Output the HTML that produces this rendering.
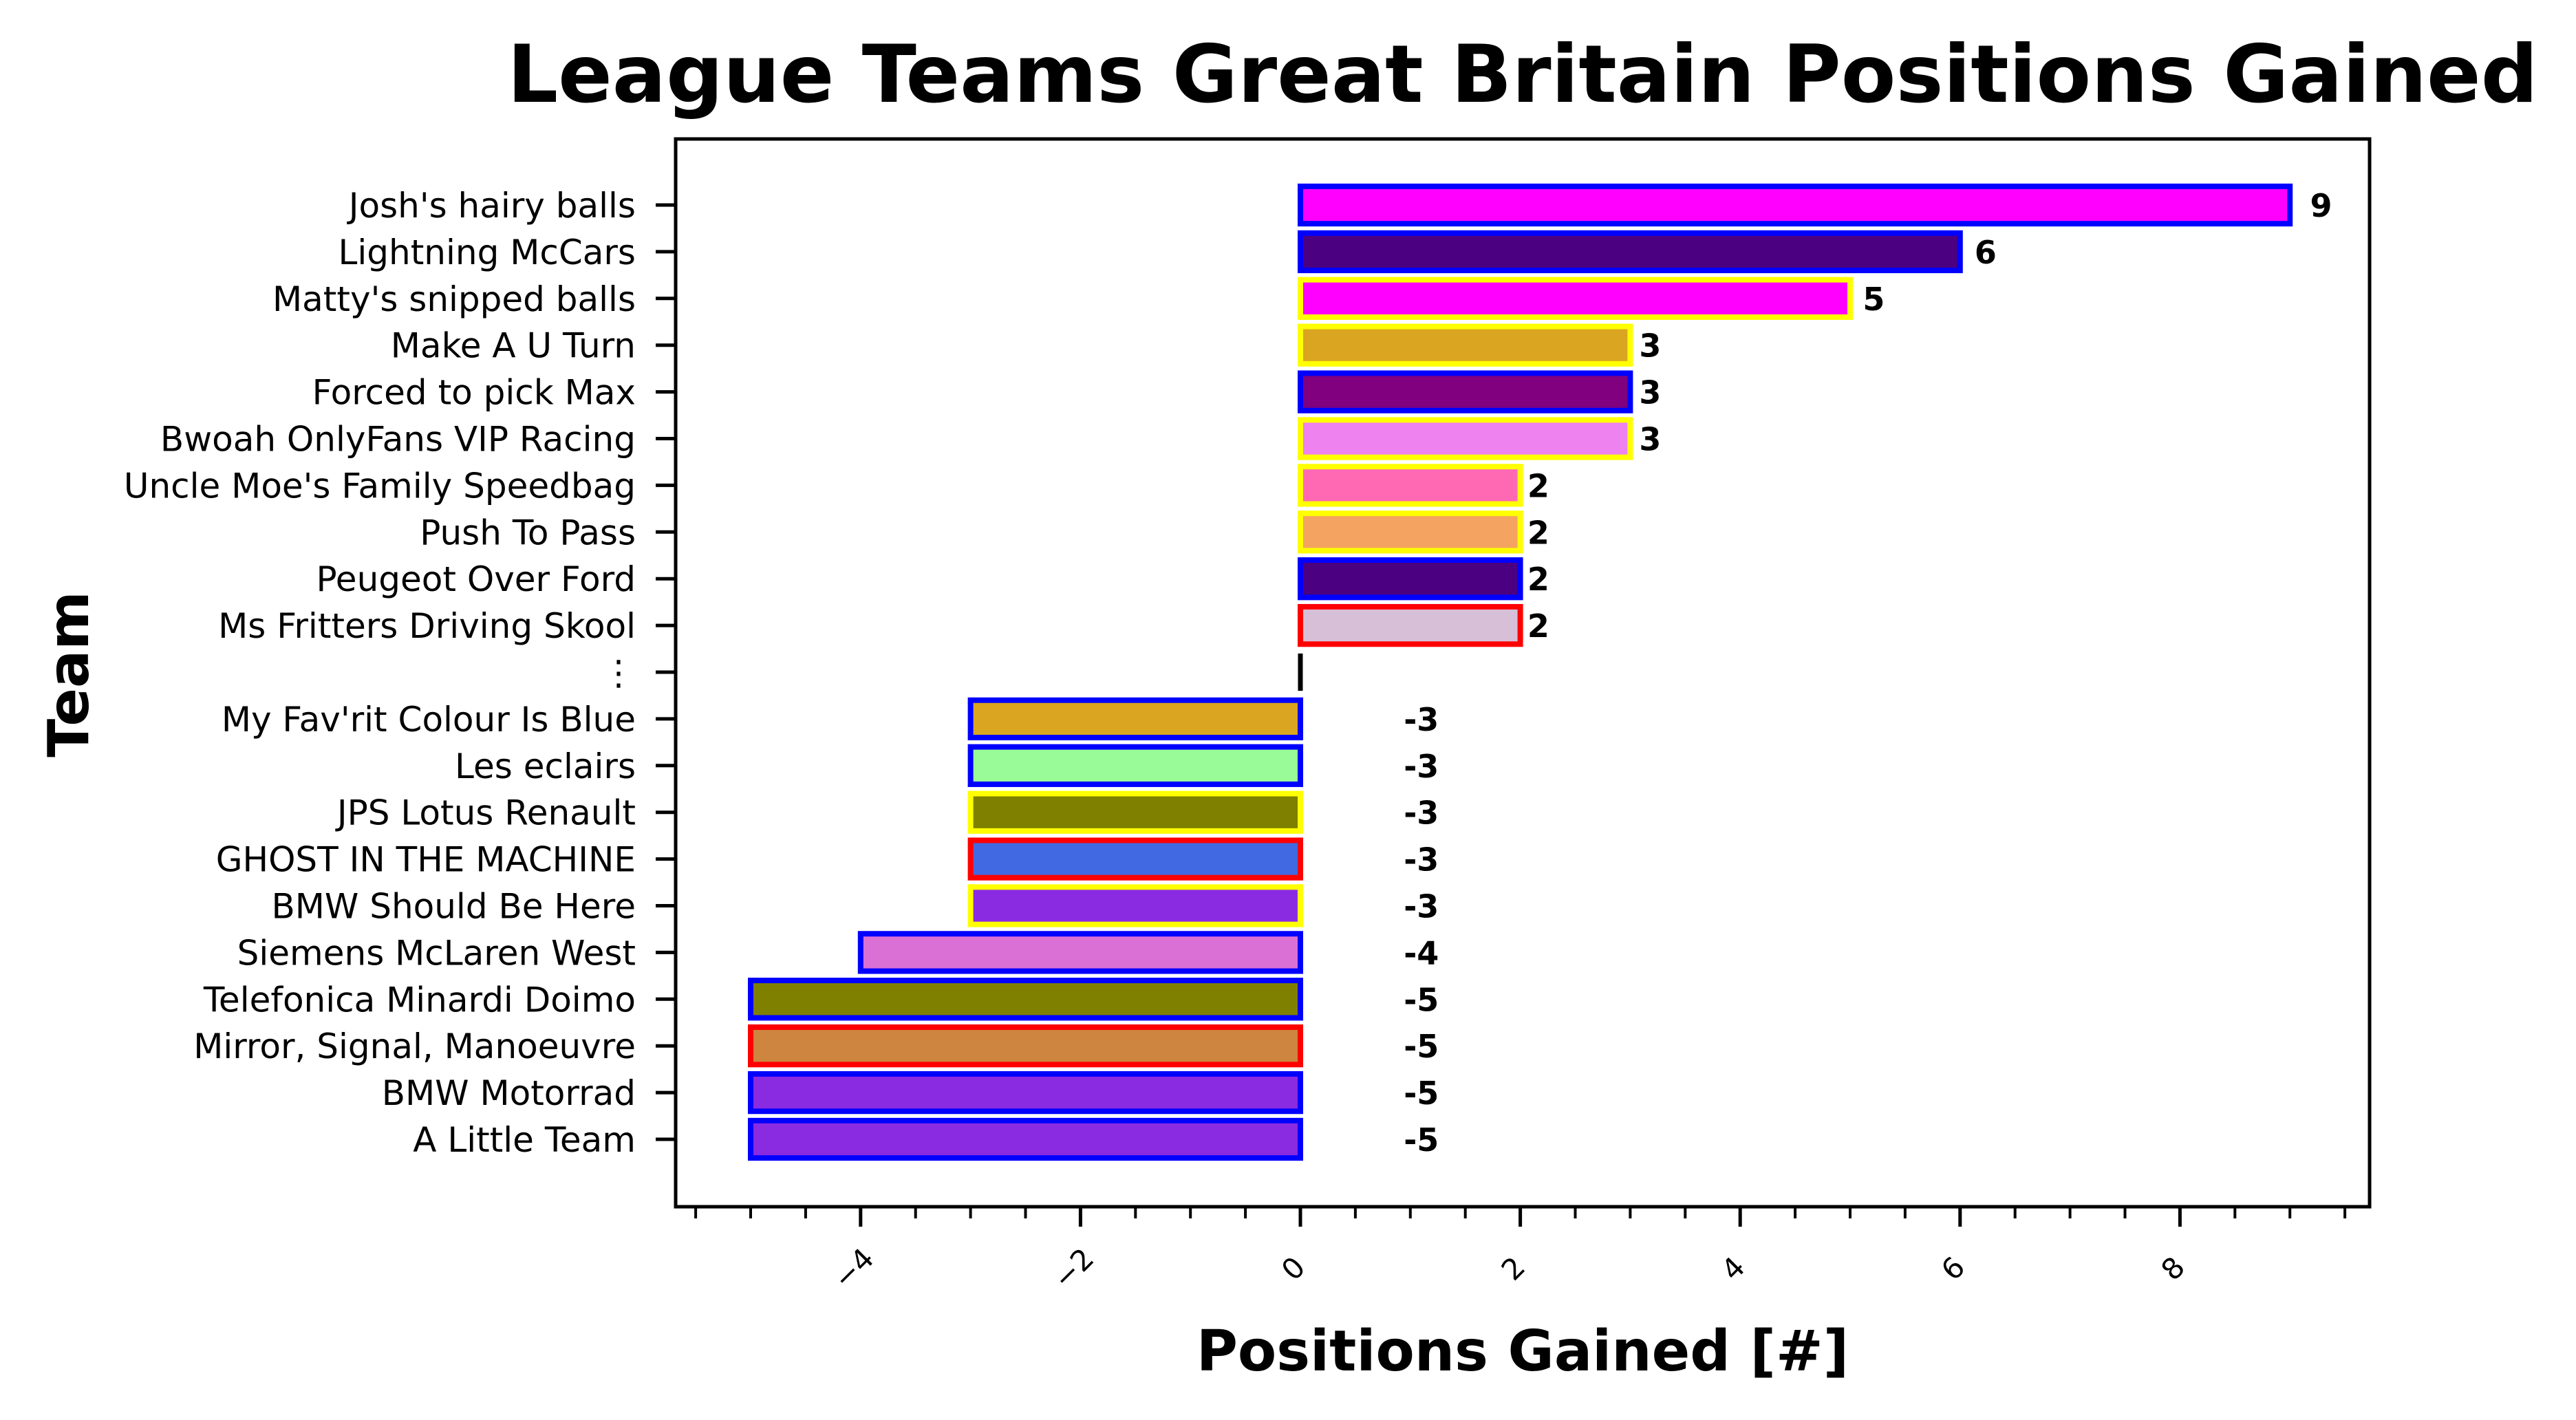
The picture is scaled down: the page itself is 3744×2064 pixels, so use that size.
<!DOCTYPE html>
<html><head><meta charset="utf-8"><style>
html,body{margin:0;padding:0;background:#fff;}
svg{display:block;font-family:"DejaVu Sans","Liberation Sans",sans-serif;}
</style></head><body>
<svg id="chart" width="3744" height="2064" viewBox="0 0 3744 2064" xmlns="http://www.w3.org/2000/svg">
<rect width="3744" height="2064" fill="#fff"/>
<text x="2213" y="148" font-size="116" font-weight="bold" text-anchor="middle">League Teams Great Britain Positions Gained</text>
<text x="2213" y="1992" font-size="82" font-weight="bold" text-anchor="middle">Positions Gained [#]</text>
<text x="0" y="0" font-size="82" font-weight="bold" text-anchor="middle" transform="translate(128,980) rotate(-90)">Team</text>
<g id="plot"></g>
<rect x="982" y="202" width="2462" height="1552" fill="none" stroke="#000" stroke-width="5"/>
</svg>
<script>
const teams = ["Josh's hairy balls","Lightning McCars","Matty's snipped balls","Make A U Turn","Forced to pick Max","Bwoah OnlyFans VIP Racing","Uncle Moe's Family Speedbag","Push To Pass","Peugeot Over Ford","Ms Fritters Driving Skool","⋮","My Fav'rit Colour Is Blue","Les eclairs","JPS Lotus Renault","GHOST IN THE MACHINE","BMW Should Be Here","Siemens McLaren West","Telefonica Minardi Doimo","Mirror, Signal, Manoeuvre","BMW Motorrad","A Little Team"];
const values = [9,6,5,3,3,3,2,2,2,2,0,-3,-3,-3,-3,-3,-4,-5,-5,-5,-5];
const fills = ["#ff00ff","#4b0082","#ff00ff","#daa520","#800080","#ee82ee","#ff69b4","#f4a460","#4b0082","#d8bfd8","#000000","#daa520","#98fb98","#808000","#4169e1","#8a2be2","#da70d6","#808000","#cd853f","#8a2be2","#8a2be2"];
const edges = ["#0000ff","#0000ff","#ffff00","#ffff00","#0000ff","#ffff00","#ffff00","#ffff00","#0000ff","#ff0000","#000000","#0000ff","#0000ff","#ffff00","#ff0000","#ffff00","#0000ff","#0000ff","#ff0000","#0000ff","#0000ff"];
const majorTicks = [-4,-2,0,2,4,6,8];
const minorTicks = [-5.5,-5,-4.5,-3.5,-3,-2.5,-1.5,-1,-0.5,0.5,1,1.5,2.5,3,3.5,4.5,5,5.5,6.5,7,7.5,8.5,9,9.5];

const NS="http://www.w3.org/2000/svg";
const L=982,R=3444,T=202,B=1754;
const x0=1890, unit=159.8;
function xs(v){return x0+v*unit;}
const rowTop=298, rowStep=(1656-298)/20;
function ys(i){return rowTop+i*rowStep;}
const g=document.getElementById('plot');
function mk(tag,attrs){const e=document.createElementNS(NS,tag);for(const k in attrs)e.setAttribute(k,attrs[k]);g.appendChild(e);return e;}
const bh=rowStep*0.8;
teams.forEach((t,i)=>{
  const v=values[i], y=ys(i);
  if(v===0){
    const zl=mk('line',{x1:xs(0),x2:xs(0),y1:y-bh/2,y2:y+bh/2,stroke:edges[i],'stroke-width':7});
    
    
  } else {
    const xa=Math.min(xs(0),xs(v)), w=Math.abs(xs(v)-xs(0));
    const r=mk('rect',{x:xa,y:y-bh/2,width:w,height:bh,fill:fills[i],stroke:edges[i],'stroke-width':8});
    
    
  }
  const tk=mk('line',{x1:L-29,x2:L,y1:y,y2:y,stroke:'#000','stroke-width':5});
  
  
  const lb=mk('text',{x:L-58,y:y+18,'font-size':50,'text-anchor':'end'});
  lb.textContent=t;
  
  
  if(v!==0){
    const vx = v>0 ? xs(v*1.017+0.03) : xs(1.1);
    const vl=mk('text',{x:vx,y:y+17,'font-size':46,'font-weight':'bold','text-anchor':v>0?'start':'middle'});
    vl.textContent=String(v);
    
    
  }
});
majorTicks.forEach(v=>{
  const t=mk('line',{x1:xs(v),x2:xs(v),y1:B,y2:B+29,stroke:'#000','stroke-width':5});
  
  
  const lx=xs(v), ly=B+100;
  const lb=mk('text',{x:0,y:0,'font-size':42,'text-anchor':'middle',transform:`translate(${lx},${ly}) rotate(-45)`});
  lb.textContent=(v<0?'\u2212':'')+Math.abs(v);
  
  
});
minorTicks.forEach(v=>{
  const t=mk('line',{x1:xs(v),x2:xs(v),y1:B,y2:B+17,stroke:'#000','stroke-width':4});
  
  
});
</script>
</body></html>
